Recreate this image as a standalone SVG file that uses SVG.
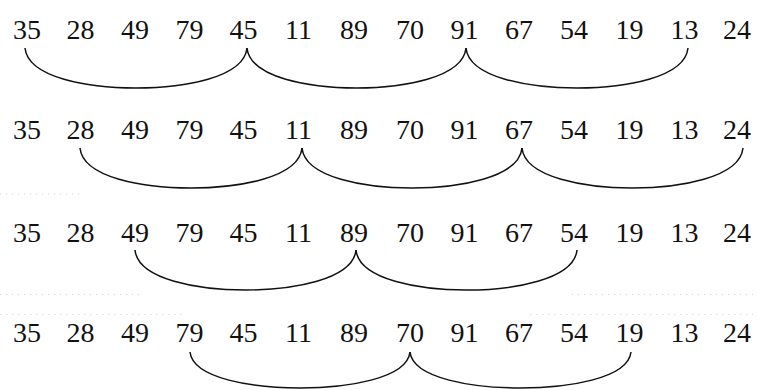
<svg xmlns="http://www.w3.org/2000/svg" width="758" height="390" viewBox="0 0 758 390">
<style>
  text { font-family: "Liberation Serif", "Times New Roman", serif; font-size: 28px; fill: #111; text-anchor: middle; }
  .arc { fill: none; stroke: #111; stroke-width: 1.5; stroke-linejoin: miter; }
  .dot { fill: none; stroke: #d6d6d6; stroke-width: 1.2; stroke-dasharray: 1.2 4.8; }
</style>
<rect width="758" height="390" fill="#fff"/>
<g id="faint-dots">
  <line class="dot" x1="0" y1="194" x2="82" y2="194"/>
  <line class="dot" x1="0" y1="294.5" x2="142" y2="294.5"/>
  <line class="dot" x1="572" y1="294.5" x2="758" y2="294.5"/>
  <line class="dot" x1="0" y1="314.5" x2="186" y2="314.5"/>
  <line class="dot" x1="530" y1="314.5" x2="758" y2="314.5"/>
</g>
<g id="row1">
  <text x="27" y="39">35</text><text x="80.5" y="39">28</text><text x="135" y="39">49</text><text x="189.5" y="39">79</text><text x="243.5" y="39">45</text><text x="298.5" y="39">11</text><text x="354" y="39">89</text><text x="410" y="39">70</text><text x="464.5" y="39">91</text><text x="519" y="39">67</text><text x="574" y="39">54</text><text x="629.5" y="39">19</text><text x="684.5" y="39">13</text><text x="737" y="39">24</text>
</g>
<g id="row2">
  <text x="27" y="139">35</text><text x="80.5" y="139">28</text><text x="135" y="139">49</text><text x="189.5" y="139">79</text><text x="243.5" y="139">45</text><text x="298.5" y="139">11</text><text x="354" y="139">89</text><text x="410" y="139">70</text><text x="464.5" y="139">91</text><text x="519" y="139">67</text><text x="574" y="139">54</text><text x="629.5" y="139">19</text><text x="684.5" y="139">13</text><text x="737" y="139">24</text>
</g>
<g id="row3">
  <text x="27" y="242">35</text><text x="80.5" y="242">28</text><text x="135" y="242">49</text><text x="189.5" y="242">79</text><text x="243.5" y="242">45</text><text x="298.5" y="242">11</text><text x="354" y="242">89</text><text x="410" y="242">70</text><text x="464.5" y="242">91</text><text x="519" y="242">67</text><text x="574" y="242">54</text><text x="629.5" y="242">19</text><text x="684.5" y="242">13</text><text x="737" y="242">24</text>
</g>
<g id="row4">
  <text x="27" y="342">35</text><text x="80.5" y="342">28</text><text x="135" y="342">49</text><text x="189.5" y="342">79</text><text x="243.5" y="342">45</text><text x="298.5" y="342">11</text><text x="354" y="342">89</text><text x="410" y="342">70</text><text x="464.5" y="342">91</text><text x="519" y="342">67</text><text x="574" y="342">54</text><text x="629.5" y="342">19</text><text x="684.5" y="342">13</text><text x="737" y="342">24</text>
</g>
<g id="connectors">
  <path class="arc" d="M25,48 C28,78 89,88 136,88 C183,88 244,78 247,48"/>
  <path class="arc" d="M247,48 C250,78 310.5,88 356.5,88 C402.5,88 463,78 466,48"/>
  <path class="arc" d="M466,48 C469,78 530,88 577,88 C624,88 685,78 688,48"/>
  <path class="arc" d="M80,148 C83,178 144,188 191,188 C238,188 299,178 302,148"/>
  <path class="arc" d="M302,148 C305,178 366,188 412,188 C458,188 519,178 522,148"/>
  <path class="arc" d="M522,148 C525,178 586.5,188 632.5,188 C678.5,188 740,178 743,148"/>
  <path class="arc" d="M135,250 C138,280 199.5,290 245.5,290 C291.5,290 353,280 356,250"/>
  <path class="arc" d="M356,250 C359,280 420.5,290 466.5,290 C512.5,290 574,280 577,250"/>
  <path class="arc" d="M190,352 C193,379 254,388 300,388 C346,388 407,379 410,352"/>
  <path class="arc" d="M410,352 C413,379 474.5,388 520.5,388 C566.5,388 628,379 631,352"/>
</g>
</svg>
